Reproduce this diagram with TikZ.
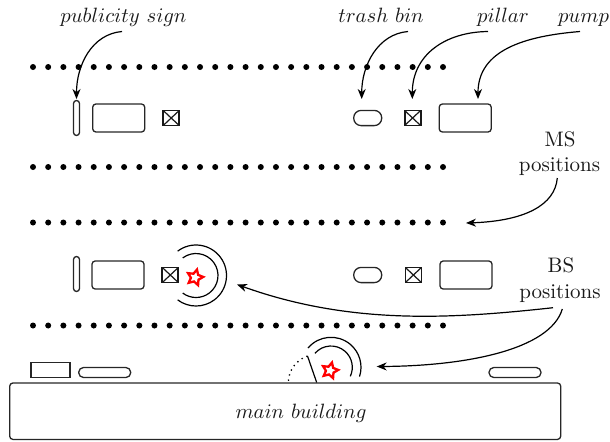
\documentclass[tikz,border=0pt]{standalone}
\usepackage{graphicx}
\usetikzlibrary{shapes.geometric,arrows.meta}
\newcommand{\itlabel}[1]{\scalebox{1.035}{$#1$}}
\tikzset{
  x=0.5pt,y=-0.5pt,
  every node/.style={inner sep=0pt,outer sep=0pt},
  shapeline/.style={draw=black!85,line width=0.65pt},
  boxr/.style={shapeline,rounded corners=1.6pt},
  pumpbox/.style={boxr,minimum width=26pt,minimum height=14pt},
  signbox/.style={shapeline,rounded corners=1.5pt,minimum width=3pt,minimum height=17.5pt},
  binbox/.style={shapeline,rounded corners=3.7pt,minimum width=14pt,minimum height=7.6pt},
  longpill/.style={shapeline,rounded corners=2.4pt,minimum width=26pt,minimum height=5pt},
  pillarbox/.style={draw=black!90,line width=0.9pt,minimum width=8pt,minimum height=7.5pt,
    path picture={\draw[line width=0.6pt] (path picture bounding box.south west)--(path picture bounding box.north east)
      (path picture bounding box.north west)--(path picture bounding box.south east);}},
  bsstar/.style={star,star points=5,star point ratio=2,draw=red,line width=1.15pt,minimum size=8.2pt,rotate=-14},
  posdot/.style={circle,fill=black,minimum size=3pt},
  lab/.style={anchor=base,font=\fontsize{10.5}{12}\selectfont,text=black!90},
  mlab/.style={anchor=base,font=\fontsize{10}{12}\selectfont,text=black!90},
  conn/.style={line width=0.6pt,-{Stealth[length=5pt,width=4pt,inset=1.6pt]}},
  wave/.style={line width=0.6pt},
}
\begin{document}
\begin{tikzpicture}
\useasboundingbox (0,0) rectangle (610,441);
% position rows
\foreach \r/\yy in {a/67,b/167,c/222.5,d/325.5}
  \foreach \i in {0,...,27}
    \node[posdot] (d\r\i) at ({33+15.185*\i},\yy) {};
% top row
\node[signbox] (sign1) at (76.5,118) {};
\node[pumpbox] (pump1) at (118.7,118) {};
\node[pillarbox] (pil1) at (171.2,118) {};
\node[binbox] (bin1) at (367.7,118) {};
\node[pillarbox] (pil2) at (412.6,118) {};
\node[pumpbox] (pump2) at (465.2,118) {};
% second row
\node[signbox] (sign2) at (76.5,274) {};
\node[pumpbox] (pump3) at (118,275) {};
\node[pillarbox] (pil3) at (170.3,275) {};
\node[binbox] (bin2) at (367.7,275) {};
\node[pillarbox] (pil4) at (413.4,275) {};
\node[pumpbox] (pump4) at (466,275) {};
% bottom
\node[shapeline,minimum width=19.5pt,minimum height=7.6pt] (lowbox) at (50.5,370) {};
\node[longpill] (pill1) at (104.7,372.5) {};
\node[longpill] (pill2) at (515,372.5) {};
\node[boxr,minimum width=275.5pt,minimum height=28.2pt] (bldg) at (285.2,411.2) {};
\node[mlab] (bldgt) at (301,418) {\itlabel{main~building}};
% base stations
\node[bsstar] (star1) at (195,277.5) {};
\draw[wave] (196,275.5)++(-127:30.5) arc[start angle=-127,end angle=127,radius=30.5];
\draw[wave] (196,275.5)++(-127:22) arc[start angle=-127,end angle=127,radius=22];
\node[bsstar] (star2) at (330,370.5) {};
\draw[wave] (331,367.3)++(-140:30) arc[start angle=-140,end angle=18,radius=30];
\draw[wave] (331,367.3)++(-139:21.3) arc[start angle=-139,end angle=25,radius=21.3];
\coordinate (hinge) at (316.7,382.5);
\coordinate (dooropen) at (307.5,356);
\draw[wave] (hinge) -- (dooropen);
\draw[line width=0.65pt,dotted] (dooropen) arc[start angle=-109,end angle=-180,radius=28.5];
% labels
\node[mlab] (lsign) at (123.5,22) {\itlabel{publicity~sign}};
\node[mlab] (lbin) at (381,22) {\itlabel{trash~bin}};
\node[mlab] (lpil) at (503,22) {\itlabel{pillar}};
\node[mlab] (lpump) at (583.5,22) {\itlabel{pump}};
\node[lab] (ms1) at (560,146) {MS};
\node[lab] (ms2) at (559.5,171) {positions};
\node[lab] (bs1) at (561,272.5) {BS};
\node[lab] (bs2) at (560,298) {positions};
% connector ends
\coordinate (s1) at (122,31.5); \coordinate (e1) at (76.5,99);
\coordinate (s2) at (408,31.5); \coordinate (e2) at (361.7,99);
\coordinate (s3) at (488,31.5); \coordinate (e3) at (412.3,99);
\coordinate (s4) at (580,31.5); \coordinate (e4) at (478,99);
\coordinate (s5) at (557.3,178); \coordinate (e5) at (466,223);
\coordinate (s6) at (553,307.7); \coordinate (e6) at (237,284.5);
\coordinate (s7) at (562.3,309); \coordinate (e7) at (376.7,366.5);
\draw[conn] (s1) .. controls (92,34) and (76.5,65) .. (e1);
\draw[conn] (s2) .. controls (378,34) and (361.7,65) .. (e2);
\draw[conn] (s3) .. controls (445,32) and (412.3,55) .. (e3);
\draw[conn] (s4) .. controls (525,36) and (478,50) .. (e4);
\draw[conn] (s5) .. controls (555,205) and (525,221) .. (e5);
\draw[conn] (s6) .. controls (450,319) and (350,325) .. (e6);
\draw[conn] (s7) .. controls (550,350) and (465,366) .. (e7);
\end{tikzpicture}
\end{document}
